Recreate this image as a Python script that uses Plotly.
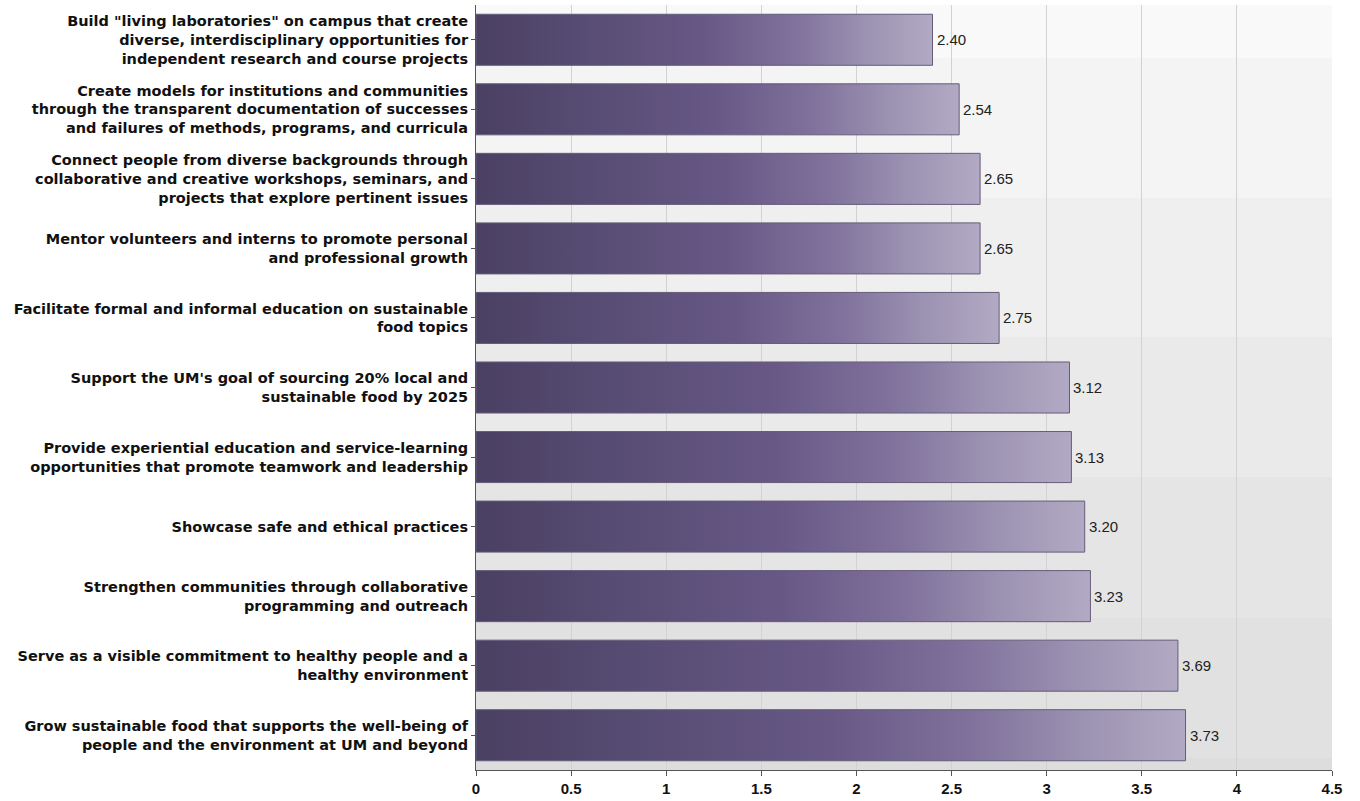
import plotly.graph_objects as go

# Survey goals (top to bottom) and their mean ratings
goals = [
    'Build "living laboratories" on campus that create<br>diverse, interdisciplinary opportunities for<br>independent research and course projects',
    "Create models for institutions and communities<br>through the transparent documentation of successes<br>and failures of methods, programs, and curricula",
    "Connect people from diverse backgrounds through<br>collaborative and creative workshops, seminars, and<br>projects that explore pertinent issues",
    "Mentor volunteers and interns to promote personal<br>and professional growth",
    "Facilitate formal and informal education on sustainable<br>food topics",
    "Support the UM's goal of sourcing 20% local and<br>sustainable food by 2025",
    "Provide experiential education and service-learning<br>opportunities that promote teamwork and leadership",
    "Showcase safe and ethical practices",
    "Strengthen communities through collaborative<br>programming and outreach",
    "Serve as a visible commitment to healthy people and a<br>healthy environment",
    "Grow sustainable food that supports the well-being of<br>people and the environment at UM and beyond",
]
scores = [2.40, 2.54, 2.65, 2.65, 2.75, 3.12, 3.13, 3.20, 3.23, 3.69, 3.73]
x_tick_vals = [0, 0.5, 1, 1.5, 2, 2.5, 3, 3.5, 4, 4.5]
x_tick_text = ["0", "0.5", "1", "1.5", "2", "2.5", "3", "3.5", "4", "4.5"]

positions = list(range(len(goals)))
HALF = 0.367  # half bar thickness in category units

bar_scale = [
    [0.0, "#4a4062"],
    [0.25, "#584d74"],
    [0.5, "#675886"],
    [0.7, "#80729c"],
    [0.85, "#9b91b1"],
    [1.0, "#b2aac4"],
]

fig = go.Figure()

for pos, val in zip(positions, scores):
    fig.add_trace(go.Scatter(
        x=[0, val, val, 0, 0],
        y=[pos + HALF, pos + HALF, pos - HALF, pos - HALF, pos + HALF],
        mode="lines",
        fill="toself",
        fillgradient=dict(type="horizontal", colorscale=bar_scale),
        line=dict(color="#665c7a", width=1),
        hoverinfo="skip",
        showlegend=False,
    ))

# value labels just past the end of each bar
annotations = [
    dict(
        x=val, y=pos, xref="x", yref="y",
        text=f"{val:.2f}", showarrow=False,
        xanchor="left", yanchor="middle", xshift=2,
        font=dict(family="Liberation Sans, Arial, sans-serif", size=15, color="#222222"),
    )
    for pos, val in zip(positions, scores)
]

# stepped grey background, lighter at the top
band_edges = [1.0, 0.9307, 0.7477, 0.5660, 0.3830, 0.1987, 0.0157, 0.0]
band_colors = ["#f9f9f9", "#f4f4f4", "#efefef", "#eaeaea", "#e5e5e5", "#e1e1e1", "#dddddd"]
shapes = []
for top, bot, col in zip(band_edges[:-1], band_edges[1:], band_colors):
    shapes.append(dict(
        type="rect", xref="x domain", yref="y domain",
        x0=0, x1=1, y0=bot, y1=top,
        fillcolor=col, line=dict(width=0), layer="below",
    ))

fig.update_layout(
    width=1360,
    height=801,
    margin=dict(l=476, r=28, t=5, b=31),
    paper_bgcolor="white",
    plot_bgcolor="white",
    shapes=shapes,
    annotations=annotations,
    showlegend=False,
)

fig.update_xaxes(
    range=[0, 4.5],
    tickvals=x_tick_vals,
    ticktext=x_tick_text,
    showgrid=True,
    gridcolor="#d2d2d2",
    gridwidth=1,
    zeroline=False,
    showline=True,
    linecolor="#555555",
    linewidth=1,
    ticks="outside",
    ticklen=5,
    tickcolor="#555555",
    tickfont=dict(family="Liberation Sans, Arial, sans-serif", size=15, color="#111111", weight="bold"),
    automargin=False,
    fixedrange=True,
)

fig.update_yaxes(
    range=[len(goals) - 0.5, -0.5],
    tickvals=positions,
    ticktext=goals,
    showgrid=False,
    zeroline=False,
    showline=True,
    linecolor="#555555",
    linewidth=1,
    ticks="outside",
    ticklen=4,
    tickcolor="#555555",
    tickfont=dict(family="DejaVu Sans, Liberation Sans, Arial, sans-serif", size=14.5, color="#111111", weight="bold"),
    automargin=False,
    fixedrange=True,
)

fig.write_html("out.html")
